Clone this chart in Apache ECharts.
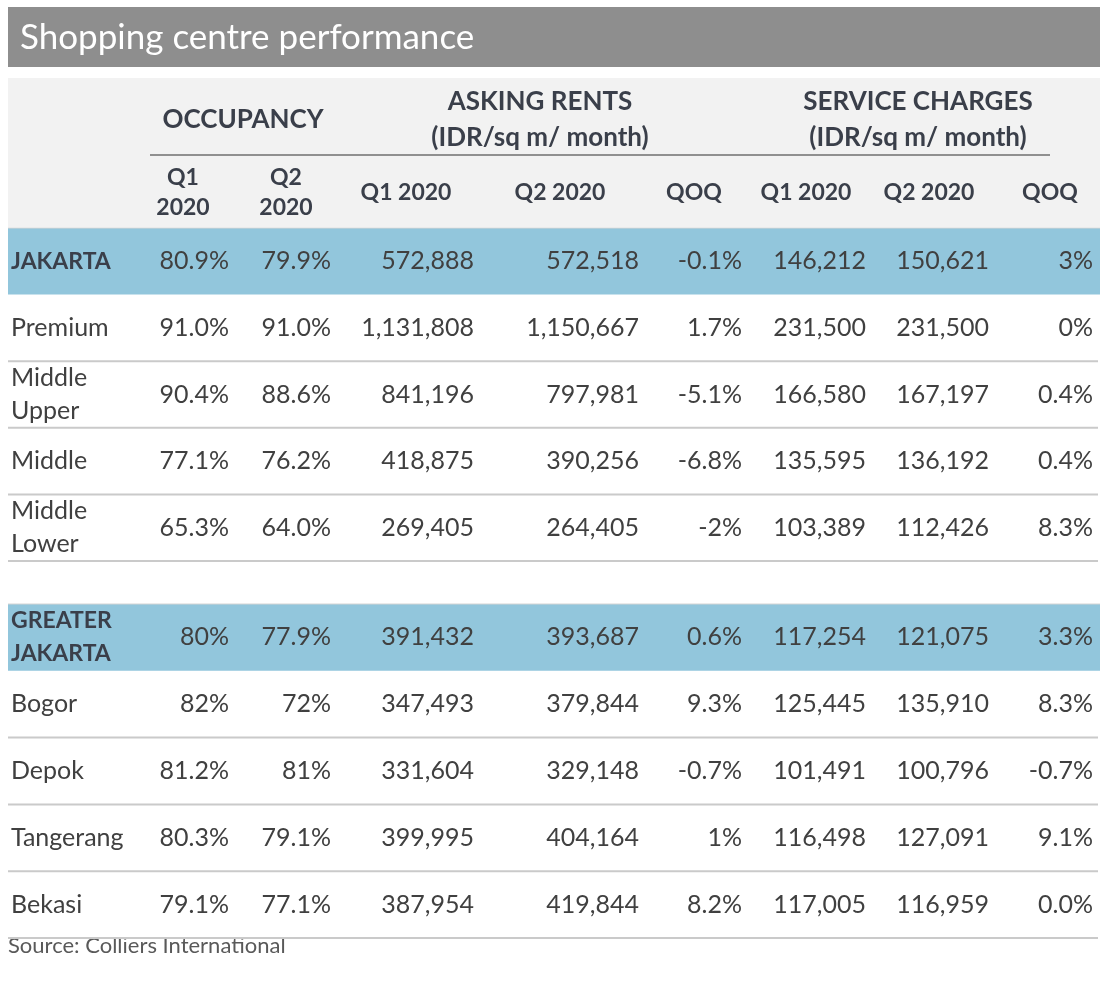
<!DOCTYPE html>
<html><head><meta charset="utf-8">
<script src="https://cdn.jsdelivr.net/npm/echarts@6/dist/echarts.min.js"></script>
<style>html,body{margin:0;padding:0;background:#fff}#c{width:1111px;height:984px}</style>
</head><body><div id="c"></div>
<script>
const rowLabels = ['JAKARTA','Premium','Middle\nUpper','Middle','Middle\nLower','GREATER\nJAKARTA','Bogor','Depok','Tangerang','Bekasi'];
const totalRows = ['JAKARTA','GREATER\nJAKARTA'];
const occupancyQ1 = ['80.9%','91.0%','90.4%','77.1%','65.3%','80%','82%','81.2%','80.3%','79.1%'];
const occupancyQ2 = ['79.9%','91.0%','88.6%','76.2%','64.0%','77.9%','72%','81%','79.1%','77.1%'];
const askingQ1 = ['572,888','1,131,808','841,196','418,875','269,405','391,432','347,493','331,604','399,995','387,954'];
const askingQ2 = ['572,518','1,150,667','797,981','390,256','264,405','393,687','379,844','329,148','404,164','419,844'];
const askingQoQ = ['-0.1%','1.7%','-5.1%','-6.8%','-2%','0.6%','9.3%','-0.7%','1%','8.2%'];
const serviceQ1 = ['146,212','231,500','166,580','135,595','103,389','117,254','125,445','101,491','116,498','117,005'];
const serviceQ2 = ['150,621','231,500','167,197','136,192','112,426','121,075','135,910','100,796','127,091','116,959'];
const serviceQoQ = ['3%','0%','0.4%','0.4%','8.3%','3.3%','8.3%','-0.7%','9.1%','0.0%'];
const groupHeaders = ['OCCUPANCY','ASKING RENTS\n(IDR/sq m/ month)','SERVICE CHARGES\n(IDR/sq m/ month)'];
const subHeaders = ['Q1\n2020','Q2\n2020','Q1 2020','Q2 2020','QOQ','Q1 2020','Q2 2020','QOQ'];
const titleText = 'Shopping centre performance';
const sourceText = 'Source: Colliers International';

const FONT = 'Lato, "Open Sans", sans-serif';
const TXT = '#404040';
const HEAD = '#3a3f4a';
const BLUE = '#92c6dc';
const columns = [occupancyQ1, occupancyQ2, askingQ1, askingQ2, askingQoQ, serviceQ1, serviceQ2, serviceQoQ];
const colRight = [229, 331, 474, 639, 742, 866, 989, 1093];
const subHeaderCenter = [183, 286, 406, 560, 694, 806, 929, 1050];
const groupCenter = [[243,120],[540,120],[918,120]];

const chart = echarts.init(document.getElementById('c'));

function blockData(from, to) {
  const d = [];
  for (let i = from; i < to; i++) d.push([0, i - from, i]);
  return d;
}

function renderRow(params, api) {
  const li = api.value(1), gi = api.value(2);
  const c = api.coord([0, li]);
  const h = api.size([0, 1])[1];
  const top = c[1] - h / 2, bottom = c[1] + h / 2;
  const xl = api.coord([8, li])[0], xr = api.coord([1100, li])[0];
  const isTotal = totalRows.indexOf(rowLabels[gi]) >= 0;
  const ch = [];
  if (isTotal) {
    ch.push({type:'rect', shape:{x:xl, y:top, width:xr - xl, height:h}, style:{fill:BLUE}});
    ch.push({type:'line', shape:{x1:xl, y1:top, x2:xr, y2:top}, style:{stroke:'#d4d4d4', lineWidth:1}});
  } else {
    ch.push({type:'line', shape:{x1:xl, y1:bottom, x2:xr - 2, y2:bottom}, style:{stroke:'#cacaca', lineWidth:2}});
  }
  ch.push({type:'text', style:{text:rowLabels[gi], x:api.coord([11, li])[0], y:c[1], align:'left', verticalAlign:'middle',
    fontFamily:FONT, fontSize:isTotal?23:25, fontWeight:isTotal?'bold':'normal', lineHeight:33, fill:isTotal?HEAD:TXT}});
  columns.forEach((col, j) => {
    ch.push({type:'text', style:{text:col[gi], x:api.coord([colRight[j], li])[0], y:c[1], align:'right', verticalAlign:'middle',
      fontFamily:FONT, fontSize:25, fill:TXT}});
  });
  return {type:'group', children:ch};
}

const graphic = [
  {type:'rect', shape:{x:8, y:7, width:1092, height:60}, style:{fill:'#8e8e8e'}},
  {type:'text', style:{text:titleText, x:20, y:38, verticalAlign:'middle', fontFamily:FONT, fontSize:35, fill:'#ffffff'}},
  {type:'rect', shape:{x:8, y:78, width:1092, height:149}, style:{fill:'#f2f2f2'}},
  {type:'line', shape:{x1:150, y1:155, x2:1050, y2:155}, style:{stroke:'#6f6f6f', lineWidth:1.5}},
  {type:'text', style:{text:sourceText, x:8, y:946, verticalAlign:'middle', fontFamily:FONT, fontSize:22, fill:'#595959'}}
];
groupHeaders.forEach((t, i) => graphic.push({type:'text', style:{text:t, x:groupCenter[i][0], y:groupCenter[i][1], align:'center', verticalAlign:'middle',
  fontFamily:FONT, fontSize:26, fontWeight:'bold', lineHeight:36, fill:HEAD}}));
subHeaders.forEach((t, i) => graphic.push({type:'text', style:{text:t, x:subHeaderCenter[i], y:193, align:'center', verticalAlign:'middle',
  fontFamily:FONT, fontSize:23, fontWeight:'bold', lineHeight:30, fill:HEAD}}));

chart.setOption({
  animation:false,
  backgroundColor:'#ffffff',
  graphic: graphic,
  grid:[{left:0, right:0, top:228, height:333}, {left:0, right:0, top:604, height:334}],
  xAxis:[{gridIndex:0, type:'value', min:0, max:1111, show:false}, {gridIndex:1, type:'value', min:0, max:1111, show:false}],
  yAxis:[{gridIndex:0, type:'category', inverse:true, data:rowLabels.slice(0,5), show:false},
         {gridIndex:1, type:'category', inverse:true, data:rowLabels.slice(5,10), show:false}],
  series:[
    {type:'custom', xAxisIndex:0, yAxisIndex:0, renderItem:renderRow, data:blockData(0,5), clip:false, encode:{x:0, y:1}},
    {type:'custom', xAxisIndex:1, yAxisIndex:1, renderItem:renderRow, data:blockData(5,10), clip:false, encode:{x:0, y:1}}
  ]
});
</script></body></html>
